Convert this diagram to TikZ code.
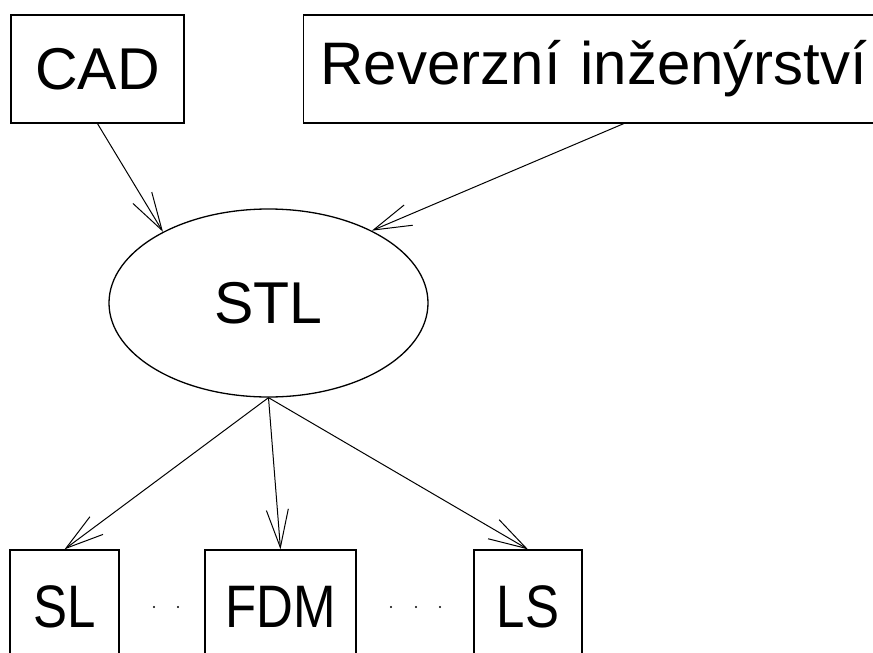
\documentclass[tikz,border=0pt]{standalone}
\usepackage{fontspec}
\setsansfont{Liberation Sans}
\newfontfamily\narrowsf[FakeStretch=0.85]{Liberation Sans}
\usetikzlibrary{arrows.meta,shapes.geometric}

\tikzset{
	blok/.style = {draw, line width = 1.3pt, inner sep = 0pt, font = \sffamily\fontsize{59}{59}\selectfont},
	dolni/.style = {blok, minimum height = 113pt, font = \narrowsf\fontsize{60}{60}\selectfont},
	sipka/.style = {line width = 1pt, -{Straight Barb[length = 38pt, width = 22pt]}}
}

\begin{document}
\begin{tikzpicture} [x = 1pt, y = -1pt]
			\useasboundingbox (0,0) rectangle (873,653);
			\clip (0,0) rectangle (873,653);
			
			% horni vstupy
			\node [blok, minimum width = 173pt, minimum height = 108pt] (cad) at (97.5,69) {CAD};
			\node [blok, anchor = west, minimum height = 108pt, inner xsep = 17pt, text width = 606pt, align = left] (rev) at (303,69) {\fontsize{60}{60}\selectfont Reverzní inženýrství};
			
			\node [blok, ellipse, minimum width = 319pt, minimum height = 188pt] (stl) at (268.5,303) {STL};
			
			% technologie
			\node [dolni, minimum width = 109pt] (sl) at (64.5,606.5) {SL};
			\node [dolni, minimum width = 151pt] (fdm) at (280.5,606.5) {FDM};
			\node [dolni, minimum width = 108pt] (ls) at (528,606.5) {LS};
			
			\draw [sipka] (cad.south) to (stl.146) ;
			\draw [sipka] (rev.south) to (stl.35) ;
			
			\draw [sipka] (stl.south) to (sl.north) ;
			\draw [sipka] (stl.south) to (fdm.north) ;
			\draw [sipka] (stl.south) to (ls.north) ;
			
			\foreach \x in {154,178,391,416,440}
				\fill (\x,607) circle [radius = 1.1pt];
		\end{tikzpicture}
\end{document}
